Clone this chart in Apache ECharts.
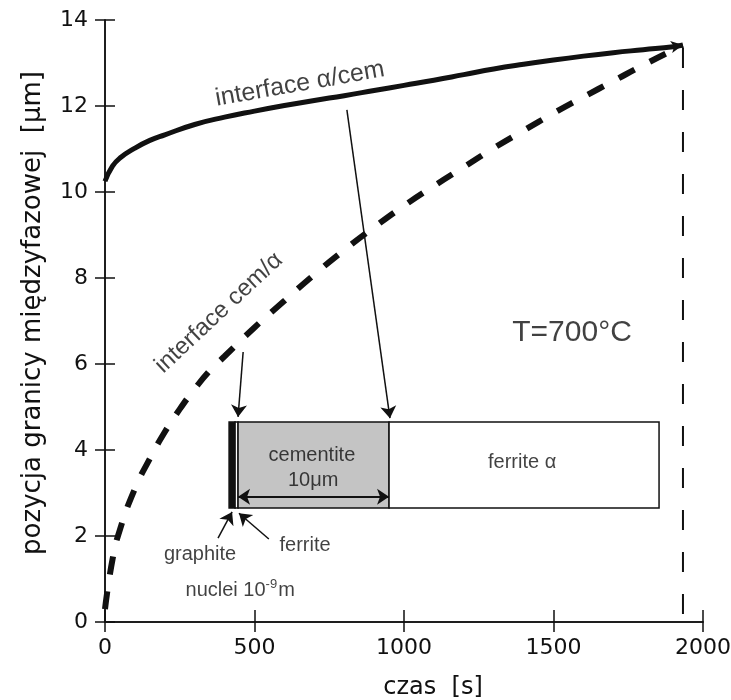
<!DOCTYPE html>
<html>
<head>
    <meta charset="utf-8">
    <title>ECharts</title>
    <script src="https://cdn.jsdelivr.net/npm/echarts/dist/echarts.min.js"></script>
</head>
<body style="margin:0;background:#fff">
    <div id="main" style="width: 731px;height:700px;"></div>
    <script>
        // interface alpha/cem (solid)
        var solidT = [0, 25, 50, 100, 150, 200, 300, 400, 500, 600, 700, 800, 900, 1000, 1100, 1200, 1300, 1400, 1500, 1600, 1700, 1800, 1900, 1933];
        var solidY = [10.25, 10.6, 10.79, 11.02, 11.2, 11.33, 11.57, 11.74, 11.88, 12.01, 12.13, 12.24, 12.36, 12.48, 12.6, 12.73, 12.86, 12.97, 13.07, 13.16, 13.24, 13.31, 13.38, 13.42];
        // interface cem/alpha (dashed)
        var dashT = [0, 25, 50, 100, 150, 200, 250, 300, 350, 400, 500, 600, 700, 800, 900, 1000, 1100, 1200, 1300, 1400, 1500, 1600, 1700, 1800, 1900, 1933];
        var dashY = [0.3, 1.45, 2.15, 3.1, 3.8, 4.42, 4.95, 5.42, 5.84, 6.18, 6.85, 7.47, 8.08, 8.65, 9.18, 9.68, 10.14, 10.58, 11.02, 11.43, 11.83, 12.21, 12.58, 12.95, 13.3, 13.4];
        // vertical end marker
        var endT = 1933;
        var endY = [13.35, 0.1];

        // inset layers: graphite, ferrite, cementite, ferrite alpha
        var layerX = [[415, 435], [435, 445], [445, 950], [950, 1853]];
        var layerY = [2.65, 4.65];
        var layerFill = ['#111', '#fff', '#c4c4c4', '#fff'];

        // arrows [from, to]
        var arrows = [
            [[809, 11.91], [953, 4.74]],
            [[462, 6.28], [445, 4.77]],
            [[378, 1.95], [425, 2.56]],
            [[548, 1.93], [448, 2.53]]
        ];
        var dimArrow = [[445, 2.91], [950, 2.91]];

        var xTicks = [0, 500, 1000, 1500, 2000];
        var yTicks = [0, 2, 4, 6, 8, 10, 12, 14];

        // annotations: [t, y, text, rotate, fontSize]
        var notes = [
            [652, 12.51, 'interface α/cem', 10, 25],
            [381, 7.19, 'interface cem/α', 43, 24],
            [1562, 6.72, 'T=700°C', 0, 30],
            [692, 3.88, 'cementite', 0, 20],
            [696, 3.28, '10μm', 0, 20],
            [1395, 3.70, 'ferrite α', 0, 20],
            [318, 1.56, 'graphite', 0, 20],
            [669, 1.79, 'ferrite', 0, 20],
            [452, 0.74, 'nuclei 10{sup|-9}m', 0, 20]
        ];

        var ink = '#111';
        var font = 'Liberation Sans, Arial, sans-serif';
        var axisFont = 'DejaVu Sans, sans-serif';

        function zip(a, b) {
            return a.map(function (v, i) { return [v, b[i]]; });
        }

        var chartDom = document.getElementById('main');
        var myChart = echarts.init(chartDom);

        var axisLine = { show: true, lineStyle: { color: ink, width: 1.5 } };
        var tick = function (len) {
            return { show: true, length: len, lineStyle: { color: ink, width: 1.5 } };
        };

        var solidData = zip(solidT, solidY);
        var last = solidData.pop();
        solidData.push({ value: last, symbol: 'arrow', symbolSize: [9, 12], symbolRotate: -80 });

        var option = {
            animation: false,
            grid: { left: 105, right: 28, top: 20, bottom: 78, containLabel: false, outerBoundsMode: 'none' },
            xAxis: [
                {
                    type: 'value', min: xTicks[0], max: xTicks[xTicks.length - 1], interval: 500,
                    position: 'bottom',
                    axisLine: axisLine, axisTick: tick(10), splitLine: { show: false },
                    axisLabel: { fontSize: 22, color: ink, fontFamily: axisFont, margin: 15,
                        formatter: function (v) { return String(v); } },
                    name: 'czas  [s]', nameLocation: 'middle', nameGap: 54,
                    nameTextStyle: { fontSize: 24, color: ink, fontFamily: axisFont, padding: [0, 0, 0, 58] }
                },
                {
                    type: 'value', min: xTicks[0], max: xTicks[xTicks.length - 1], interval: 500,
                    position: 'top',
                    axisLine: axisLine, axisTick: tick(12), splitLine: { show: false },
                    axisLabel: { show: false }
                }
            ],
            yAxis: [
                {
                    type: 'value', min: yTicks[0], max: yTicks[yTicks.length - 1], interval: 2,
                    position: 'left',
                    axisLine: axisLine, axisTick: tick(10), splitLine: { show: false },
                    axisLabel: { fontSize: 22, color: ink, fontFamily: axisFont, margin: 17 },
                    name: 'pozycja granicy międzyfazowej  [μm]', nameLocation: 'middle', nameGap: 59,
                    nameTextStyle: { fontSize: 26, color: ink, fontFamily: axisFont, padding: [0, 0, 0, 16] }
                },
                {
                    type: 'value', min: yTicks[0], max: yTicks[yTicks.length - 1], interval: 2,
                    position: 'right',
                    axisLine: axisLine, axisTick: tick(10), splitLine: { show: false },
                    axisLabel: { show: false }
                }
            ],
            series: [
                {
                    type: 'custom',
                    renderItem: function (params, api) {
                        var p0 = api.coord([api.value(0), api.value(3)]);
                        var p1 = api.coord([api.value(1), api.value(2)]);
                        return {
                            type: 'rect',
                            shape: { x: p0[0], y: p0[1], width: p1[0] - p0[0], height: p1[1] - p0[1] },
                            style: { fill: layerFill[params.dataIndex], stroke: ink, lineWidth: 1.5 }
                        };
                    },
                    data: layerX.map(function (x) { return [x[0], x[1], layerY[0], layerY[1]]; }),
                    silent: true
                },
                {
                    type: 'line', data: solidData, smooth: 0.5,
                    symbol: 'none', showSymbol: true,
                    itemStyle: { color: ink },
                    lineStyle: { color: ink, width: 5 }, silent: true
                },
                {
                    type: 'line', data: zip(dashT, dashY), smooth: 0.5, symbol: 'none',
                    lineStyle: { color: ink, width: 6, type: [18, 17] }, silent: true
                },
                {
                    type: 'line', data: endY.map(function (y) { return [endT, y]; }), symbol: 'none',
                    lineStyle: { color: ink, width: 2, type: [20, 22] }, silent: true
                },
                {
                    type: 'lines', coordinateSystem: 'cartesian2d',
                    symbol: ['none', 'arrow'], symbolSize: [0, 12],
                    lineStyle: { color: ink, width: 1.5, opacity: 1 },
                    data: arrows.map(function (a) { return { coords: a }; }), silent: true
                },
                {
                    type: 'lines', coordinateSystem: 'cartesian2d',
                    symbol: ['arrow', 'arrow'], symbolSize: 12,
                    lineStyle: { color: ink, width: 2, opacity: 1 },
                    data: [{ coords: dimArrow }], silent: true
                },
                {
                    type: 'scatter', symbolSize: 1, itemStyle: { color: 'rgba(0,0,0,0)' }, silent: true,
                    data: notes.map(function (n) {
                        return {
                            value: [n[0], n[1]],
                            label: {
                                show: true, position: 'inside', formatter: n[2], rotate: n[3],
                                fontSize: n[4], color: ink, fontFamily: font,
                                rich: { sup: { fontSize: 13, verticalAlign: 'top', padding: [0, 1, 12, 0], color: ink, fontFamily: font } }
                            }
                        };
                    })
                }
            ]
        };

        option && myChart.setOption(option);
    </script>
</body>
</html>
